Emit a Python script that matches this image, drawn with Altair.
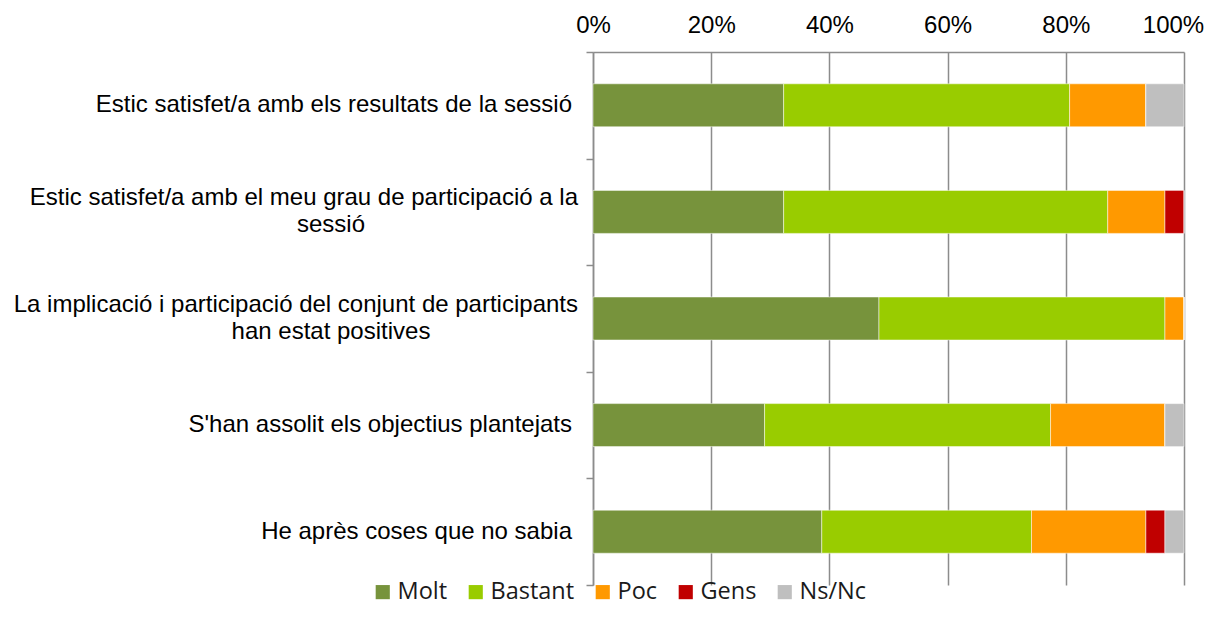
import altair as alt
import pandas as pd

categories = [
    "Estic satisfet/a amb els resultats de la sessió",
    "Estic satisfet/a amb el meu grau de participació a la\nsessió",
    "La implicació i participació del conjunt de participants\nhan estat positives",
    "S'han assolit els objectius plantejats",
    "He après coses que no sabia",
]
responses = ["Molt", "Bastant", "Poc", "Gens", "Ns/Nc"]
molt = [10, 10, 15, 9, 12]
bastant = [15, 17, 15, 15, 11]
poc = [4, 3, 1, 6, 6]
gens = [0, 1, 0, 0, 1]
nsnc = [2, 0, 0, 1, 1]
colors = ["#77933C", "#99CC00", "#FF9900", "#C00000", "#BFBFBF"]
tick_values = [0, 0.2, 0.4, 0.6, 0.8, 1.0]

series = [molt, bastant, poc, gens, nsnc]
rows = []
for ci, cat in enumerate(categories):
    for ri, resp in enumerate(responses):
        rows.append({"cat": cat, "resp": resp, "order": ri, "count": series[ri][ci]})
df = pd.DataFrame(rows)

lab_rows = []
for cat in categories:
    parts = cat.split("\n")
    lab_rows.append({"cat": cat, "line1": parts[0], "line2": parts[1] if len(parts) > 1 else ""})
ldf = pd.DataFrame(lab_rows)

GRAY = "#8C8C8C"
LABEL_FONT = "Liberation Sans"
FS = 24

yenc = alt.Y(
    "cat:N",
    sort=categories,
    scale=alt.Scale(paddingInner=0, paddingOuter=0),
    axis=alt.Axis(
        labels=False,
        title=None,
        tickBand="extent",
        tickSize=7,
        tickColor=GRAY,
        tickWidth=1.5,
        domainColor=GRAY,
        domainWidth=1.5,
        grid=False,
    ),
)

bars = alt.Chart(df).mark_bar(size=43, stroke="white", strokeWidth=0.5).encode(
    x=alt.X(
        "count:Q",
        stack="normalize",
        scale=alt.Scale(domain=[0, 1]),
        axis=alt.Axis(
            orient="top",
            values=tick_values,
            format=".0%",
            title=None,
            ticks=False,
            labelFlush=False,
            labelOffset={"condition": {"test": "datum.value === 1", "value": -11}, "value": 0},
            labelPadding=15,
            labelFont=LABEL_FONT,
            labelFontSize=FS,
            labelColor="#000000",
            grid=True,
            gridColor=GRAY,
            gridWidth=1.5,
            domainColor=GRAY,
            domainWidth=1.5,
        ),
    ),
    y=yenc,
    color=alt.Color(
        "resp:N",
        sort=responses,
        scale=alt.Scale(domain=responses, range=colors),
        legend=alt.Legend(
            title=None,
            orient="none",
            legendX=-222,
            legendY=528,
            direction="horizontal",
            symbolType="square",
            symbolSize=200,
            symbolStrokeWidth=0,
            labelFont="Open Sans",
            labelFontSize=23.5,
            labelColor="#1a1a1a",
            labelOffset=3,
            columnPadding=16,
            padding=0,
        ),
    ),
    order=alt.Order("order:Q"),
)

single = alt.Chart(ldf).transform_filter("datum.line2 == ''").mark_text(
    align="right", baseline="middle", font=LABEL_FONT, fontSize=FS, color="#000000"
).encode(y=alt.Y("cat:N", sort=categories), text="line1:N", x=alt.value(-21))

first = alt.Chart(ldf).transform_filter("datum.line2 != ''").mark_text(
    align="right", baseline="middle", font=LABEL_FONT, fontSize=FS, color="#000000", dy=-13.5
).encode(y=alt.Y("cat:N", sort=categories), text="line1:N", x=alt.value(-15))

second = alt.Chart(ldf).transform_filter("datum.line2 != ''").mark_text(
    align="center", baseline="middle", font=LABEL_FONT, fontSize=FS, color="#000000", dy=13.5
).encode(y=alt.Y("cat:N", sort=categories), text="line2:N", x=alt.value(-262))

chart = alt.layer(bars, single, first, second).properties(
    width=591,
    height=533,
    autosize=alt.AutoSizeParams(type="none"),
    padding={"left": 585, "top": 44, "right": 20, "bottom": 22},
).configure_view(stroke=None)

chart.save("out.html", embed_options={"renderer": "svg", "actions": False})
